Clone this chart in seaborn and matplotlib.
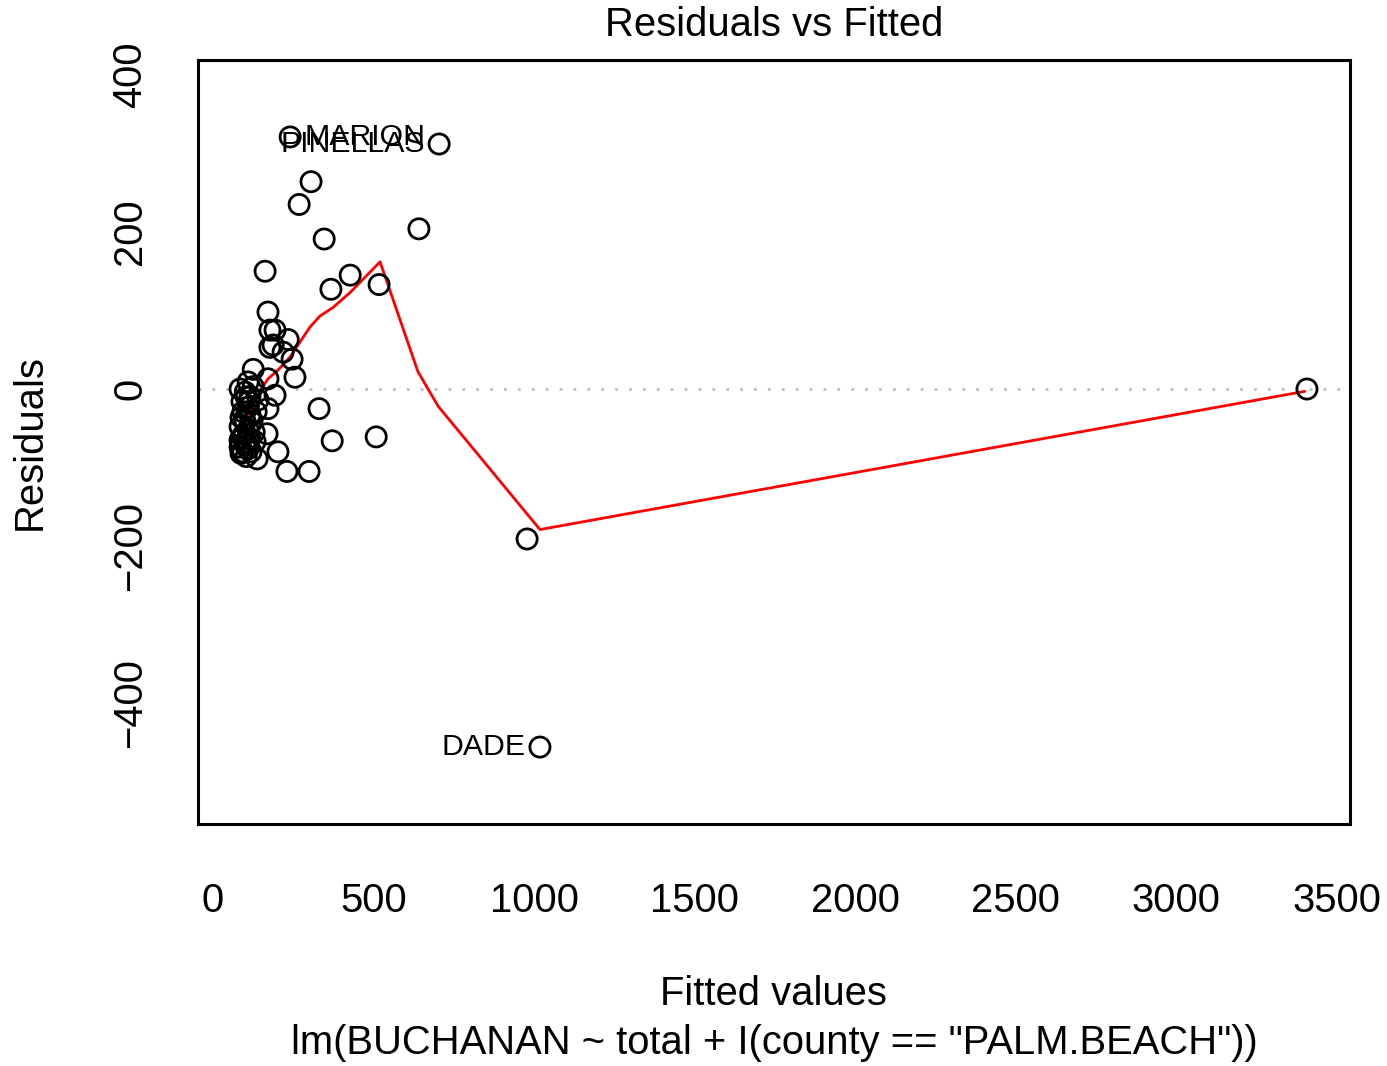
import matplotlib
matplotlib.use("Agg")
import matplotlib.pyplot as plt
import seaborn as sns
import pandas as pd
import numpy as np

# ---- data ----
fitted = [3407, 1018, 978, 704, 240, 305, 268, 641, 346, 162, 427, 367, 517,
          171, 177, 193, 234, 177, 187, 218, 246, 125, 255, 171, 193, 330,
          171, 168, 371, 508, 202, 137, 230, 299,
          84, 109, 100, 115, 90, 109, 93, 115, 100, 84, 109, 90, 115, 100,
          84, 109, 93, 131, 121, 134, 87, 103, 125, 97, 84, 106, 118, 87,
          103, 97, 112, 128, 140]
residuals = [0, -456, -191, 312, 321, 264, 235, 204, 191, 150, 145, 127, 133,
             98, 75, 75, 63, 53, 56, 47, 38, 25, 15, 13, -8, -25,
             -25, -57, -66, -61, -80, -89, -105, -105,
             0, 9, -4, -10, -16, -23, -29, -33, -42, -48, -52, -61, -63, -67,
             -74, -76, -80, -67, -42, -29, -36, -10, 3, -57, -65, -71, -80, -82,
             -86, -39, -16, -55, -14]

# smoother (lowess)
smooth_x = [87, 125, 171, 202, 240, 271, 302, 333, 374, 427, 520, 638, 701, 1018, 3400]
smooth_y = [-52, -16, 13, 24, 41, 60, 79, 93, 104, 123, 162, 22, -22, -179, -3]

labels = ["DADE", "PINELLAS", "MARION"]
label_x = [1018, 704, 240]
label_y = [-456, 312, 321]
label_side = ["left", "left", "right"]

xticks = [0, 500, 1000, 1500, 2000, 2500, 3000, 3500]
yticks = [-400, -200, 0, 200, 400]

title = "Residuals vs Fitted"
xlabel = "Fitted values"
caption = 'lm(BUCHANAN ~ total + I(county == "PALM.BEACH"))'
ylabel = "Residuals"

# ---- plotting ----
sns.set_style("white")
plt.rcParams["font.family"] = ["Liberation Sans", "DejaVu Sans"]
plt.rcParams["text.color"] = "black"
plt.rcParams["axes.labelcolor"] = "black"

FS = 28.8
W, H = 1387, 1066
fig = plt.figure(figsize=(W / 100, H / 100), dpi=100)
L, R, T, B = 198, 1350, 60, 824
ax = fig.add_axes([L / W, 1 - B / H, (R - L) / W, (B - T) / H])

df = pd.DataFrame({"fitted": fitted, "resid": residuals})
sm = pd.DataFrame({"x": smooth_x, "y": smooth_y})

ax.axhline(0, color="#bebebe", lw=2, ls=(0, (1, 4)), zorder=1)
sns.lineplot(data=sm, x="x", y="y", ax=ax, color="red", lw=2,
             estimator=None, sort=False, zorder=2)
sns.scatterplot(data=df, x="fitted", y="resid", ax=ax, s=14.5 ** 2,
                facecolor="none", edgecolor="black", linewidth=2, zorder=3)

for lab, lx, ly, side in zip(labels, label_x, label_y, label_side):
    off = -10.5 if side == "left" else 10.5
    ax.annotate(lab, (lx, ly), xytext=(off, 0), textcoords="offset points",
                ha="right" if side == "left" else "left", va="center",
                fontsize=21.8, color="black")

ax.set_xlim(-47, 3541)
ax.set_ylim(-554, 419)
ax.set_xticks(xticks)
ax.set_yticks(yticks)
ax.set_xticklabels([str(t) for t in xticks])
ax.set_yticklabels([str(t).replace("-", "\u2212") for t in yticks])
ax.set_xlabel("")
ax.set_ylabel("")
for s in ax.spines.values():
    s.set_visible(True)
    s.set_linewidth(2.2)
    s.set_color("black")
ax.tick_params(axis="both", direction="out", length=18, width=2.2,
               labelsize=FS, colors="black")
ax.tick_params(axis="x", pad=24)
ax.tick_params(axis="y", pad=17)
for t in ax.get_yticklabels():
    t.set_rotation(90)
    t.set_va("center")

cx = (L + R) / 2 / W
fig.text(cx, 1 - 25 / H, title, ha="center", va="center", fontsize=FS)
fig.text(cx, 1 - 994 / H, xlabel, ha="center", va="center", fontsize=FS)
fig.text(cx, 1 - 1043 / H, caption, ha="center", va="center", fontsize=FS)
fig.text(30 / W, 1 - 442 / H, ylabel, ha="center", va="center",
         rotation=90, fontsize=FS)

fig.savefig("out.png", dpi=100)
